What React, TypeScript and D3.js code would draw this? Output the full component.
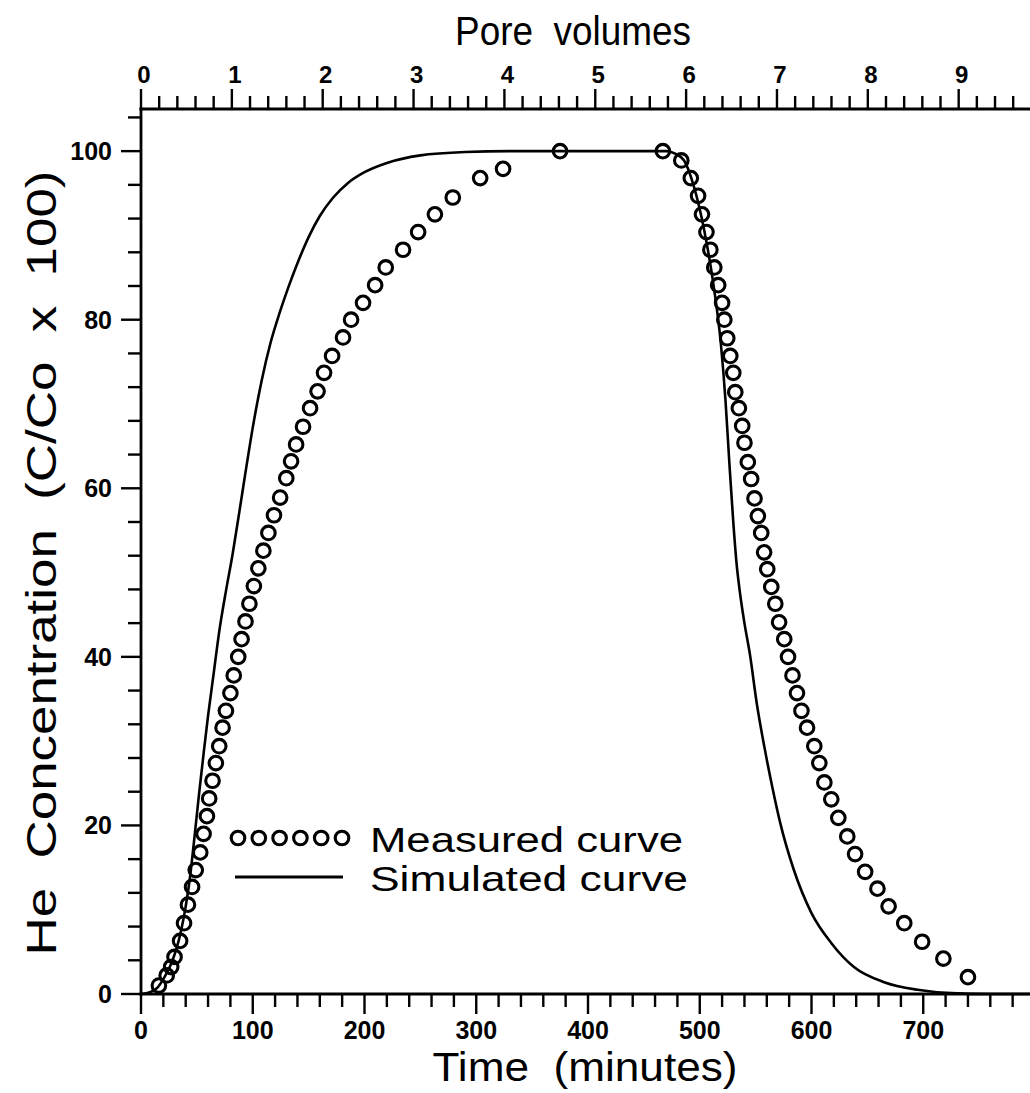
import React from 'react';
import * as d3 from 'd3';

// Measured breakthrough curve (time in minutes, C/Co x 100)
const measuredTime = [
  16, 23, 27, 30, 35, 38.5, 42, 45.7, 49, 53, 56, 59, 61, 64, 67, 70, 73, 76, 80, 83, 87, 90,
  93.5, 97, 101, 105, 109.5, 114, 119, 124.5, 130, 134.3, 138.8, 145, 151.3, 158, 163.8, 171,
  180.8, 188, 198.7, 209.5, 219, 234.5, 248, 263, 279, 303.5, 324, 375,
  467, 483.5, 492, 498.5, 502, 506, 509.5, 513, 516.5, 520, 522, 524.6, 527.3, 530, 531.8, 535,
  538, 540, 543, 546, 549, 552, 555, 557.6, 560.4, 564, 567.6, 571, 575.6, 579, 583, 587, 591,
  596, 602.5, 607, 611.5, 617.7, 624, 632, 639, 648, 659, 669, 683, 699, 718, 740,
];
const measuredConc = [
  1.0, 2.2, 3.2, 4.4, 6.3, 8.4, 10.6, 12.7, 14.7, 16.8, 19, 21.1, 23.2, 25.3, 27.4, 29.4, 31.6,
  33.6, 35.7, 37.8, 40.0, 42.1, 44.2, 46.3, 48.4, 50.5, 52.6, 54.7, 56.8, 58.9, 61.2, 63.2, 65.2,
  67.3, 69.5, 71.5, 73.7, 75.7, 77.9, 80.0, 82.0, 84.1, 86.2, 88.3, 90.4, 92.5, 94.5, 96.8, 97.9,
  100,
  100, 98.9, 96.8, 94.7, 92.5, 90.4, 88.3, 86.2, 84.1, 82, 80, 77.8, 75.7, 73.7, 71.4, 69.5, 67.4,
  65.4, 63.1, 61.1, 58.8, 56.7, 54.7, 52.4, 50.4, 48.3, 46.3, 44.1, 42.1, 40.0, 37.8, 35.7, 33.6,
  31.6, 29.4, 27.4, 25.1, 23.1, 20.9, 18.7, 16.6, 14.5, 12.5, 10.4, 8.4, 6.2, 4.2, 2.0,
];

// Simulated curve
const simTime = [
  0, 8, 15, 21, 27, 32, 36, 40, 44, 48, 52, 56, 60, 65, 70, 76, 82, 88, 94, 100, 108, 116, 124,
  132, 140, 150, 160, 172, 185, 200, 220, 250, 290, 330, 400, 470, 478, 486, 495, 504, 513, 519,
  523, 526.5, 530, 533, 536, 540, 545, 551, 558, 565, 572, 584, 600, 618, 638, 665, 695, 725,
  760, 800,
];
const simConc = [
  0, 0.2, 0.8, 2, 3.6, 5.5, 7.6, 10.4, 14, 18.8, 23.8, 28.5, 33, 38, 43, 47.8, 52.2, 57.2, 62.3,
  67.2, 72.8, 77.3, 80.8, 83.9, 86.7, 89.8, 92.3, 94.5, 96.2, 97.5, 98.6, 99.5, 99.9, 100, 100,
  100, 99.7, 98.9, 95.7, 90.6, 83.5, 77, 70.5, 63, 56, 51, 47.6, 44, 40.2, 34.5, 29.2, 24.5, 20.3,
  14.8, 9.6, 6, 3.2, 1.4, 0.5, 0.1, 0, 0,
];

const xTickLabels = [0, 100, 200, 300, 400, 500, 600, 700];
const yTickLabels = [0, 20, 40, 60, 80, 100];
const pvTickLabels = [0, 1, 2, 3, 4, 5, 6, 7, 8, 9];

const MIN_PER_PV = 81.3;
const TICK_FONT = "'Liberation Sans', Arial, sans-serif";
const TITLE_FONT = "'Liberation Sans', Arial, sans-serif";

export default function App() {
  const x = d3.scaleLinear().domain([0, 800]).range([141, 1035]);
  const y = d3.scaleLinear().domain([0, 105]).range([994, 109]);
  const pv = d3.scaleLinear().domain([0, 800 / MIN_PER_PV]).range([141, 1035]);

  const simData: [number, number][] = simTime.map((t, i) => [t, simConc[i]]);
  const line = d3
    .line<[number, number]>()
    .x((d) => x(d[0]))
    .y((d) => y(d[1]))
    .curve(d3.curveMonotoneX);

  const xMinor = d3.range(0, 801, 20).filter((t) => t % 100 !== 0);
  const yMinor = d3.range(0, 105, 4).filter((v) => v % 20 !== 0);
  const pvMinor = d3.range(0, 10, 0.2).filter((p) => Math.abs(p - Math.round(p)) > 0.01);

  const x0 = x(0);
  const yBase = y(0);
  const yTop = y(105);

  return (
    <svg
      width={1030}
      height={1093}
      style={{ position: 'absolute', left: 0, top: 0, background: '#fff' }}
    >
      <rect x={0} y={0} width={1030} height={1093} fill="#fff" />
      {/* axes frame */}
      <g stroke="#000" strokeLinecap="square">
        <line x1={x0} y1={yTop} x2={x0} y2={yBase} strokeWidth={2.8} />
        <line x1={x0} y1={yBase} x2={1030} y2={yBase} strokeWidth={3} />
        <line x1={x0} y1={yTop} x2={1030} y2={yTop} strokeWidth={3} />
      </g>

      {/* bottom ticks */}
      <g stroke="#000" strokeWidth={2.4}>
        {xTickLabels.concat([800]).map((t) => (
          <line key={'xM' + t} x1={x(t)} x2={x(t)} y1={yBase} y2={yBase + 20} />
        ))}
        {xMinor.map((t) => (
          <line key={'xm' + t} x1={x(t)} x2={x(t)} y1={yBase} y2={yBase + 13} />
        ))}
      </g>
      <g fontFamily={TICK_FONT} fontWeight="bold" fontSize={25} textAnchor="middle">
        {xTickLabels.map((t) => (
          <text key={'xl' + t} x={x(t)} y={1039}>
            {t}
          </text>
        ))}
      </g>

      {/* left ticks */}
      <g stroke="#000" strokeWidth={2.4}>
        {yTickLabels.map((v) => (
          <line key={'yM' + v} x1={x0 - 20} x2={x0} y1={y(v)} y2={y(v)} />
        ))}
        {yMinor.map((v) => (
          <line key={'ym' + v} x1={x0 - 13} x2={x0} y1={y(v)} y2={y(v)} />
        ))}
      </g>
      <g fontFamily={TICK_FONT} fontWeight="bold" fontSize={25} textAnchor="end">
        {yTickLabels.map((v) => (
          <text key={'yl' + v} x={112} y={y(v) + 9}>
            {v}
          </text>
        ))}
      </g>

      {/* top ticks (pore volumes) */}
      <g stroke="#000" strokeWidth={2.4}>
        {pvTickLabels.map((p) => (
          <line key={'pM' + p} x1={pv(p)} x2={pv(p)} y1={yTop} y2={yTop - 20} />
        ))}
        {pvMinor.map((p) => (
          <line key={'pm' + p} x1={pv(p)} x2={pv(p)} y1={yTop} y2={yTop - 13} />
        ))}
      </g>
      <g fontFamily={TICK_FONT} fontWeight="bold" fontSize={24} textAnchor="middle">
        {pvTickLabels.map((p) => (
          <text key={'pl' + p} x={pv(p) + 3} y={83}>
            {p}
          </text>
        ))}
      </g>

      {/* titles */}
      <text
        x={573}
        y={45}
        fontFamily={TITLE_FONT}
        fontSize={40}
        textAnchor="middle"
        textLength={236}
        lengthAdjust="spacingAndGlyphs"
        style={{ whiteSpace: 'pre' }}
      >
        Pore  volumes
      </text>
      <text
        x={585}
        y={1081}
        fontFamily={TITLE_FONT}
        fontSize={40}
        textAnchor="middle"
        textLength={305}
        lengthAdjust="spacingAndGlyphs"
        style={{ whiteSpace: 'pre' }}
      >
        Time  (minutes)
      </text>
      <text
        transform={`translate(56,563) rotate(-90)`}
        fontFamily={TITLE_FONT}
        fontSize={42}
        textAnchor="middle"
        textLength={785}
        lengthAdjust="spacingAndGlyphs"
        style={{ whiteSpace: 'pre' }}
      >
        He  Concentration  (C/Co  x  100)
      </text>

      {/* simulated curve */}
      <path d={line(simData) || ''} fill="none" stroke="#000" strokeWidth={2.6} />

      {/* measured points */}
      <g fill="none" stroke="#000" strokeWidth={3.1}>
        {measuredTime.map((t, i) => (
          <circle key={'m' + i} cx={x(t)} cy={y(measuredConc[i])} r={6.8} />
        ))}
      </g>

      {/* legend */}
      <g fill="none" stroke="#000" strokeWidth={3.1}>
        {d3.range(6).map((i) => (
          <circle key={'lg' + i} cx={238 + i * 20.8} cy={838} r={6.8} />
        ))}
      </g>
      <line x1={235} x2={343} y1={877} y2={877} stroke="#000" strokeWidth={3} />
      <g fontFamily={TITLE_FONT} fontSize={34.8} style={{ whiteSpace: 'pre' }}>
        <text x={370} y={852} textLength={313} lengthAdjust="spacingAndGlyphs">
          Measured  curve
        </text>
        <text x={370} y={891} textLength={318} lengthAdjust="spacingAndGlyphs">
          Simulated  curve
        </text>
      </g>
    </svg>
  );
}
